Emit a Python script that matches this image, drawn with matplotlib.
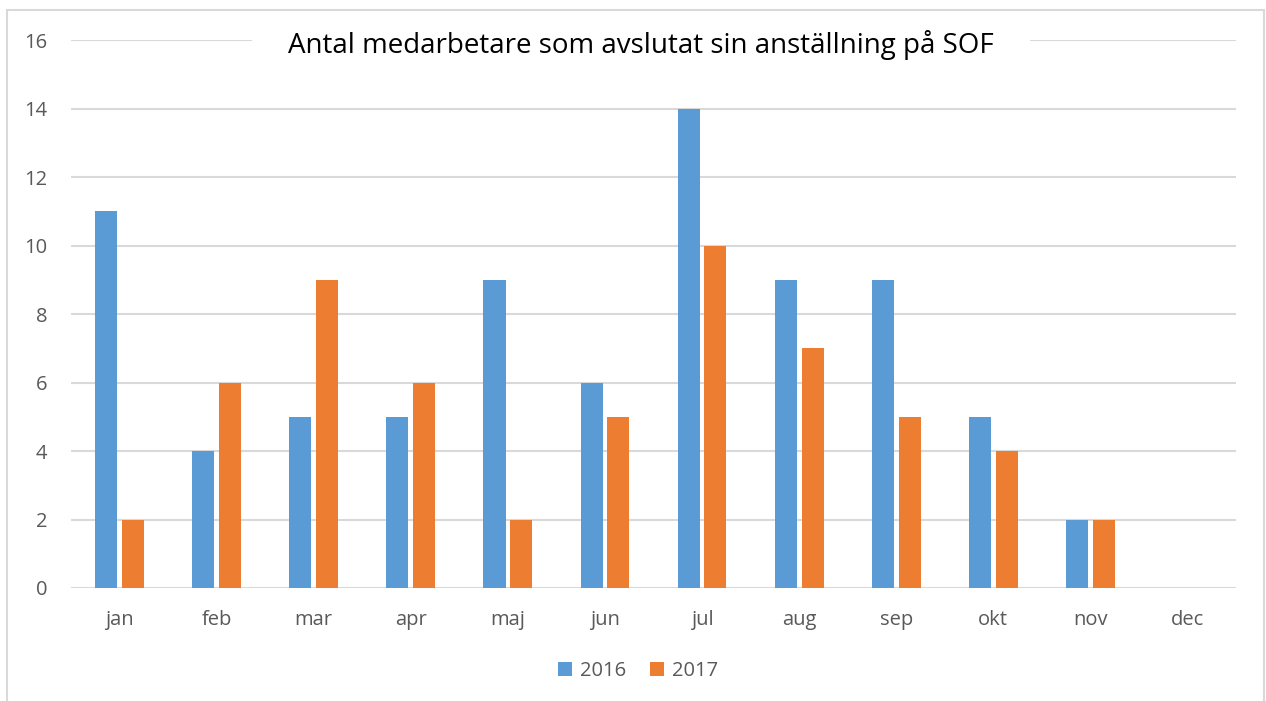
from matplotlib import pyplot as plt
from matplotlib.patches import Rectangle
import numpy as np

months = ['jan', 'feb', 'mar', 'apr', 'maj', 'jun', 'jul', 'aug', 'sep', 'okt', 'nov', 'dec']
y2016 = [11, 4, 5, 5, 9, 6, 14, 9, 9, 5, 2, np.nan]
y2017 = [2, 6, 9, 6, 2, 5, 10, 7, 5, 4, 2, np.nan]

plt.rcParams['font.family'] = ['Open Sans', 'DejaVu Sans']
grey = '#595959'

fig = plt.figure(figsize=(12.66, 7.01), dpi=100)
ax = fig.add_axes([0.0561, 0.1612, 0.9202, 0.7817])

# ram runt diagrammet
fig.patches.append(Rectangle((7 / 1266, -0.02), 1257 / 1266, 1.02 - 10 / 701,
                             transform=fig.transFigure, fill=False,
                             edgecolor='#d9d9d9', linewidth=1.5))

x = np.arange(len(months))
w = 0.227
off = 0.138
ax.bar(x - off, y2016, w, color='#5B9BD5', label='2016', zorder=3)
ax.bar(x + off, y2017, w, color='#ED7D31', label='2017', zorder=3)

ax.set_xlim(-0.5, 11.5)
ax.set_ylim(0, 16)
ax.set_yticks(range(0, 17, 2))
ax.set_xticks(x)
ax.set_xticklabels(months)
ax.grid(axis='y', color='#d9d9d9', linewidth=1.5, zorder=0)
ax.set_axisbelow(True)
for s in ax.spines.values():
    s.set_visible(False)
ax.tick_params(length=0, colors=grey, labelsize=14.5)
ax.tick_params(axis='y', pad=17)
ax.tick_params(axis='x', pad=16)

ax.text(0.489, 0.991, 'Antal medarbetare som avslutat sin anställning på SOF',
        transform=ax.transAxes, ha='center', va='center', fontsize=20,
        color='black', zorder=5,
        bbox=dict(facecolor='white', edgecolor='none', pad=26))

leg = fig.legend(loc='center', bbox_to_anchor=(0.504, 0.043), ncol=2,
                 frameon=False, fontsize=14.5, handlelength=0.7, handleheight=0.7,
                 handletextpad=0.4, columnspacing=1.2)
for t in leg.get_texts():
    t.set_color(grey)

fig.savefig('out.png', dpi=100)
